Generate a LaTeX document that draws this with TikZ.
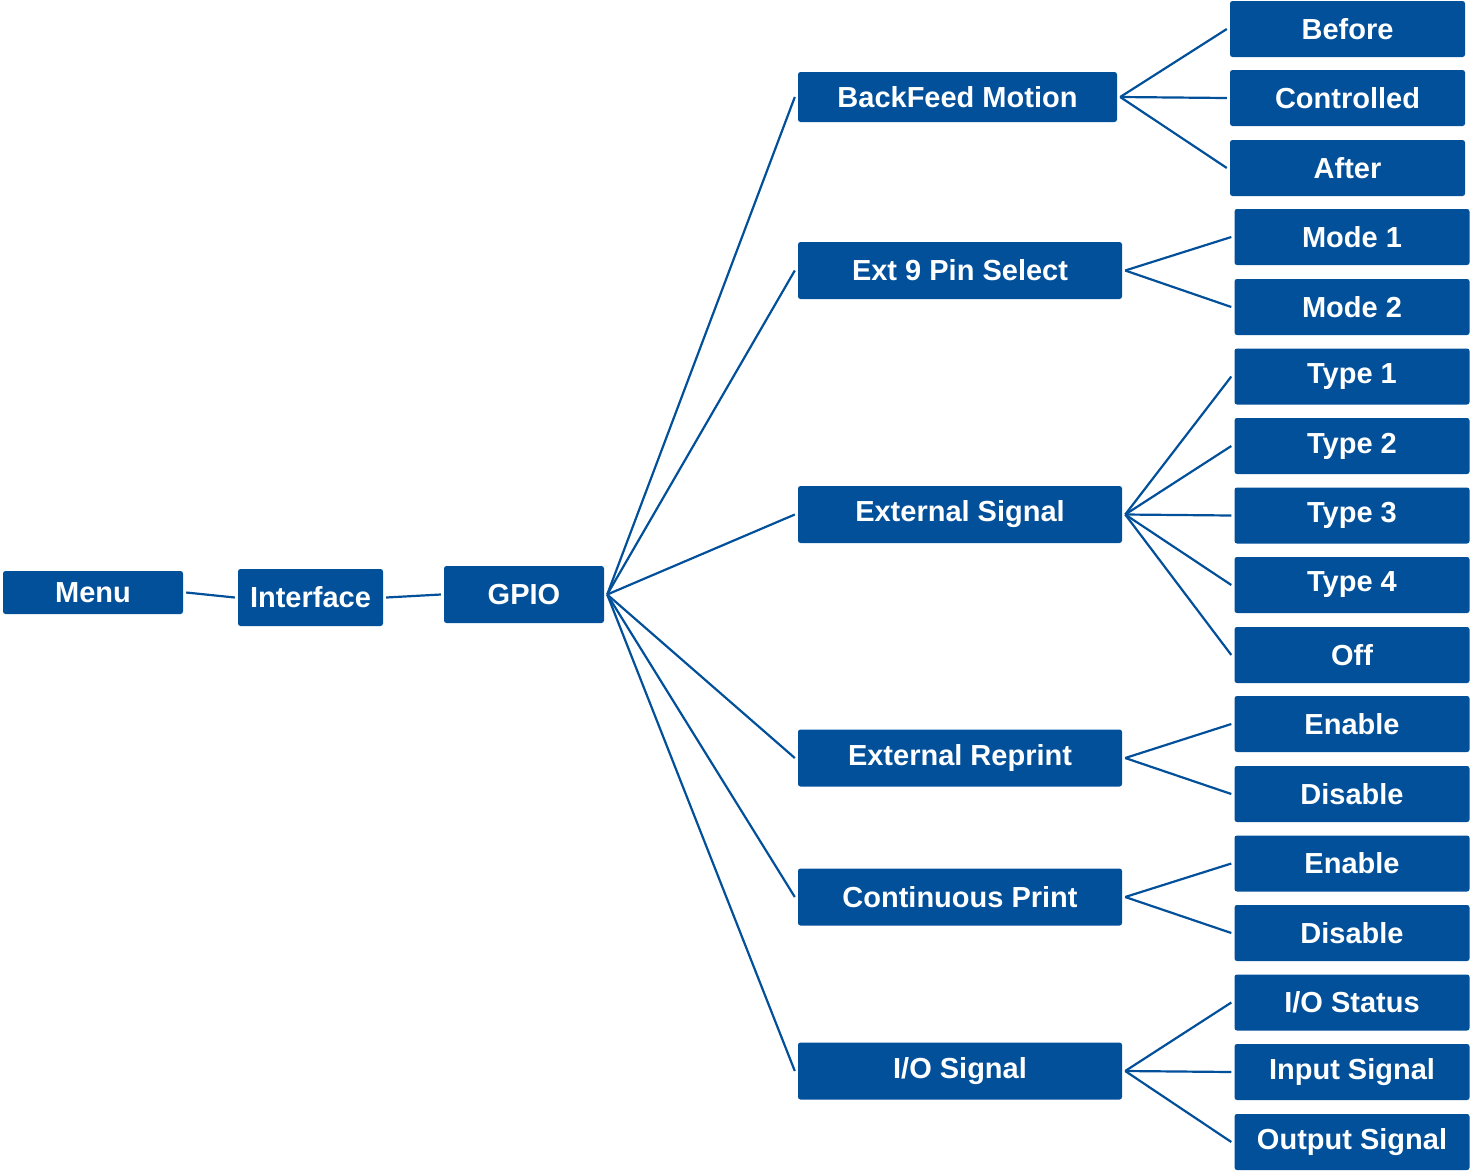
\documentclass[tikz,border=0pt]{standalone}
\usepackage{fontspec}
\setmainfont{Liberation Sans}
\definecolor{boxblue}{RGB}{2,80,154}
\begin{document}
\begin{tikzpicture}[x=1pt,y=-1pt,
  box/.style={fill=boxblue, text=white, font=\fontsize{29}{31}\selectfont\bfseries, rounded corners=2.5pt, inner sep=0pt, anchor=center},
  lv2/.style={box, minimum width=324pt, minimum height=57pt},
  lv3/.style={box, minimum width=235pt, minimum height=56pt},
  con/.style={draw=boxblue, line width=2.2pt}]
\useasboundingbox (0,0) rectangle (1470,1171);
% level 0-1
\node[box, minimum width=180pt, minimum height=43pt] (menu) at (93,592.5) {Menu};
\node[box, minimum width=145pt, minimum height=57pt] (iface) at (310.5,597.5) {Interface};
\node[box, minimum width=160pt, minimum height=57pt] (gpio) at (524,594.5) {GPIO};
% level 2
\node[box, minimum width=319pt, minimum height=50pt] (bf) at (957.5,97) {BackFeed Motion};
\node[lv2] (ext9) at (960,270.5) {Ext 9 Pin Select};
\node[lv2] (exts) at (960,514.5) {External Signal};
\node[lv2] (extr) at (960,758) {External Reprint};
\node[lv2] (cont) at (960,897) {Continuous Print};
\node[lv2] (io) at (960,1071) {I/O Signal};
% level 3
\node[lv3] (before) at (1347.5,29) {Before};
\node[lv3] (ctrl) at (1347.5,98) {Controlled};
\node[lv3] (after) at (1347.5,168) {After};
\node[lv3] (m1) at (1352,237) {Mode 1};
\node[lv3] (m2) at (1352,307) {Mode 2};
\node[lv3] (t1) at (1352,376.5) {Type 1};
\node[lv3] (t2) at (1352,446) {Type 2};
\node[lv3] (t3) at (1352,515.5) {Type 3};
\node[lv3] (t4) at (1352,585) {Type 4};
\node[lv3] (off) at (1352,655) {Off};
\node[lv3] (en1) at (1352,724) {Enable};
\node[lv3] (dis1) at (1352,794) {Disable};
\node[lv3] (en2) at (1352,863.5) {Enable};
\node[lv3] (dis2) at (1352,933) {Disable};
\node[lv3] (ios) at (1352,1002.5) {I/O Status};
\node[lv3] (ins) at (1352,1072) {Input Signal};
\node[lv3] (outs) at (1352,1142) {Output Signal};
% connectors
\draw[con] ([xshift=3pt]menu.east) -- ([xshift=-3pt]iface.west);
\draw[con] ([xshift=3pt]iface.east) -- ([xshift=-3pt]gpio.west);
\foreach \c in {bf,ext9,exts,extr,cont,io}
  \draw[con] ([xshift=3pt]gpio.east) -- ([xshift=-3pt]\c.west);
\foreach \c in {before,ctrl,after}
  \draw[con] ([xshift=3pt]bf.east) -- ([xshift=-3pt]\c.west);
\foreach \c in {m1,m2}
  \draw[con] ([xshift=3pt]ext9.east) -- ([xshift=-3pt]\c.west);
\foreach \c in {t1,t2,t3,t4,off}
  \draw[con] ([xshift=3pt]exts.east) -- ([xshift=-3pt]\c.west);
\foreach \c in {en1,dis1}
  \draw[con] ([xshift=3pt]extr.east) -- ([xshift=-3pt]\c.west);
\foreach \c in {en2,dis2}
  \draw[con] ([xshift=3pt]cont.east) -- ([xshift=-3pt]\c.west);
\foreach \c in {ios,ins,outs}
  \draw[con] ([xshift=3pt]io.east) -- ([xshift=-3pt]\c.west);
\end{tikzpicture}
\end{document}
